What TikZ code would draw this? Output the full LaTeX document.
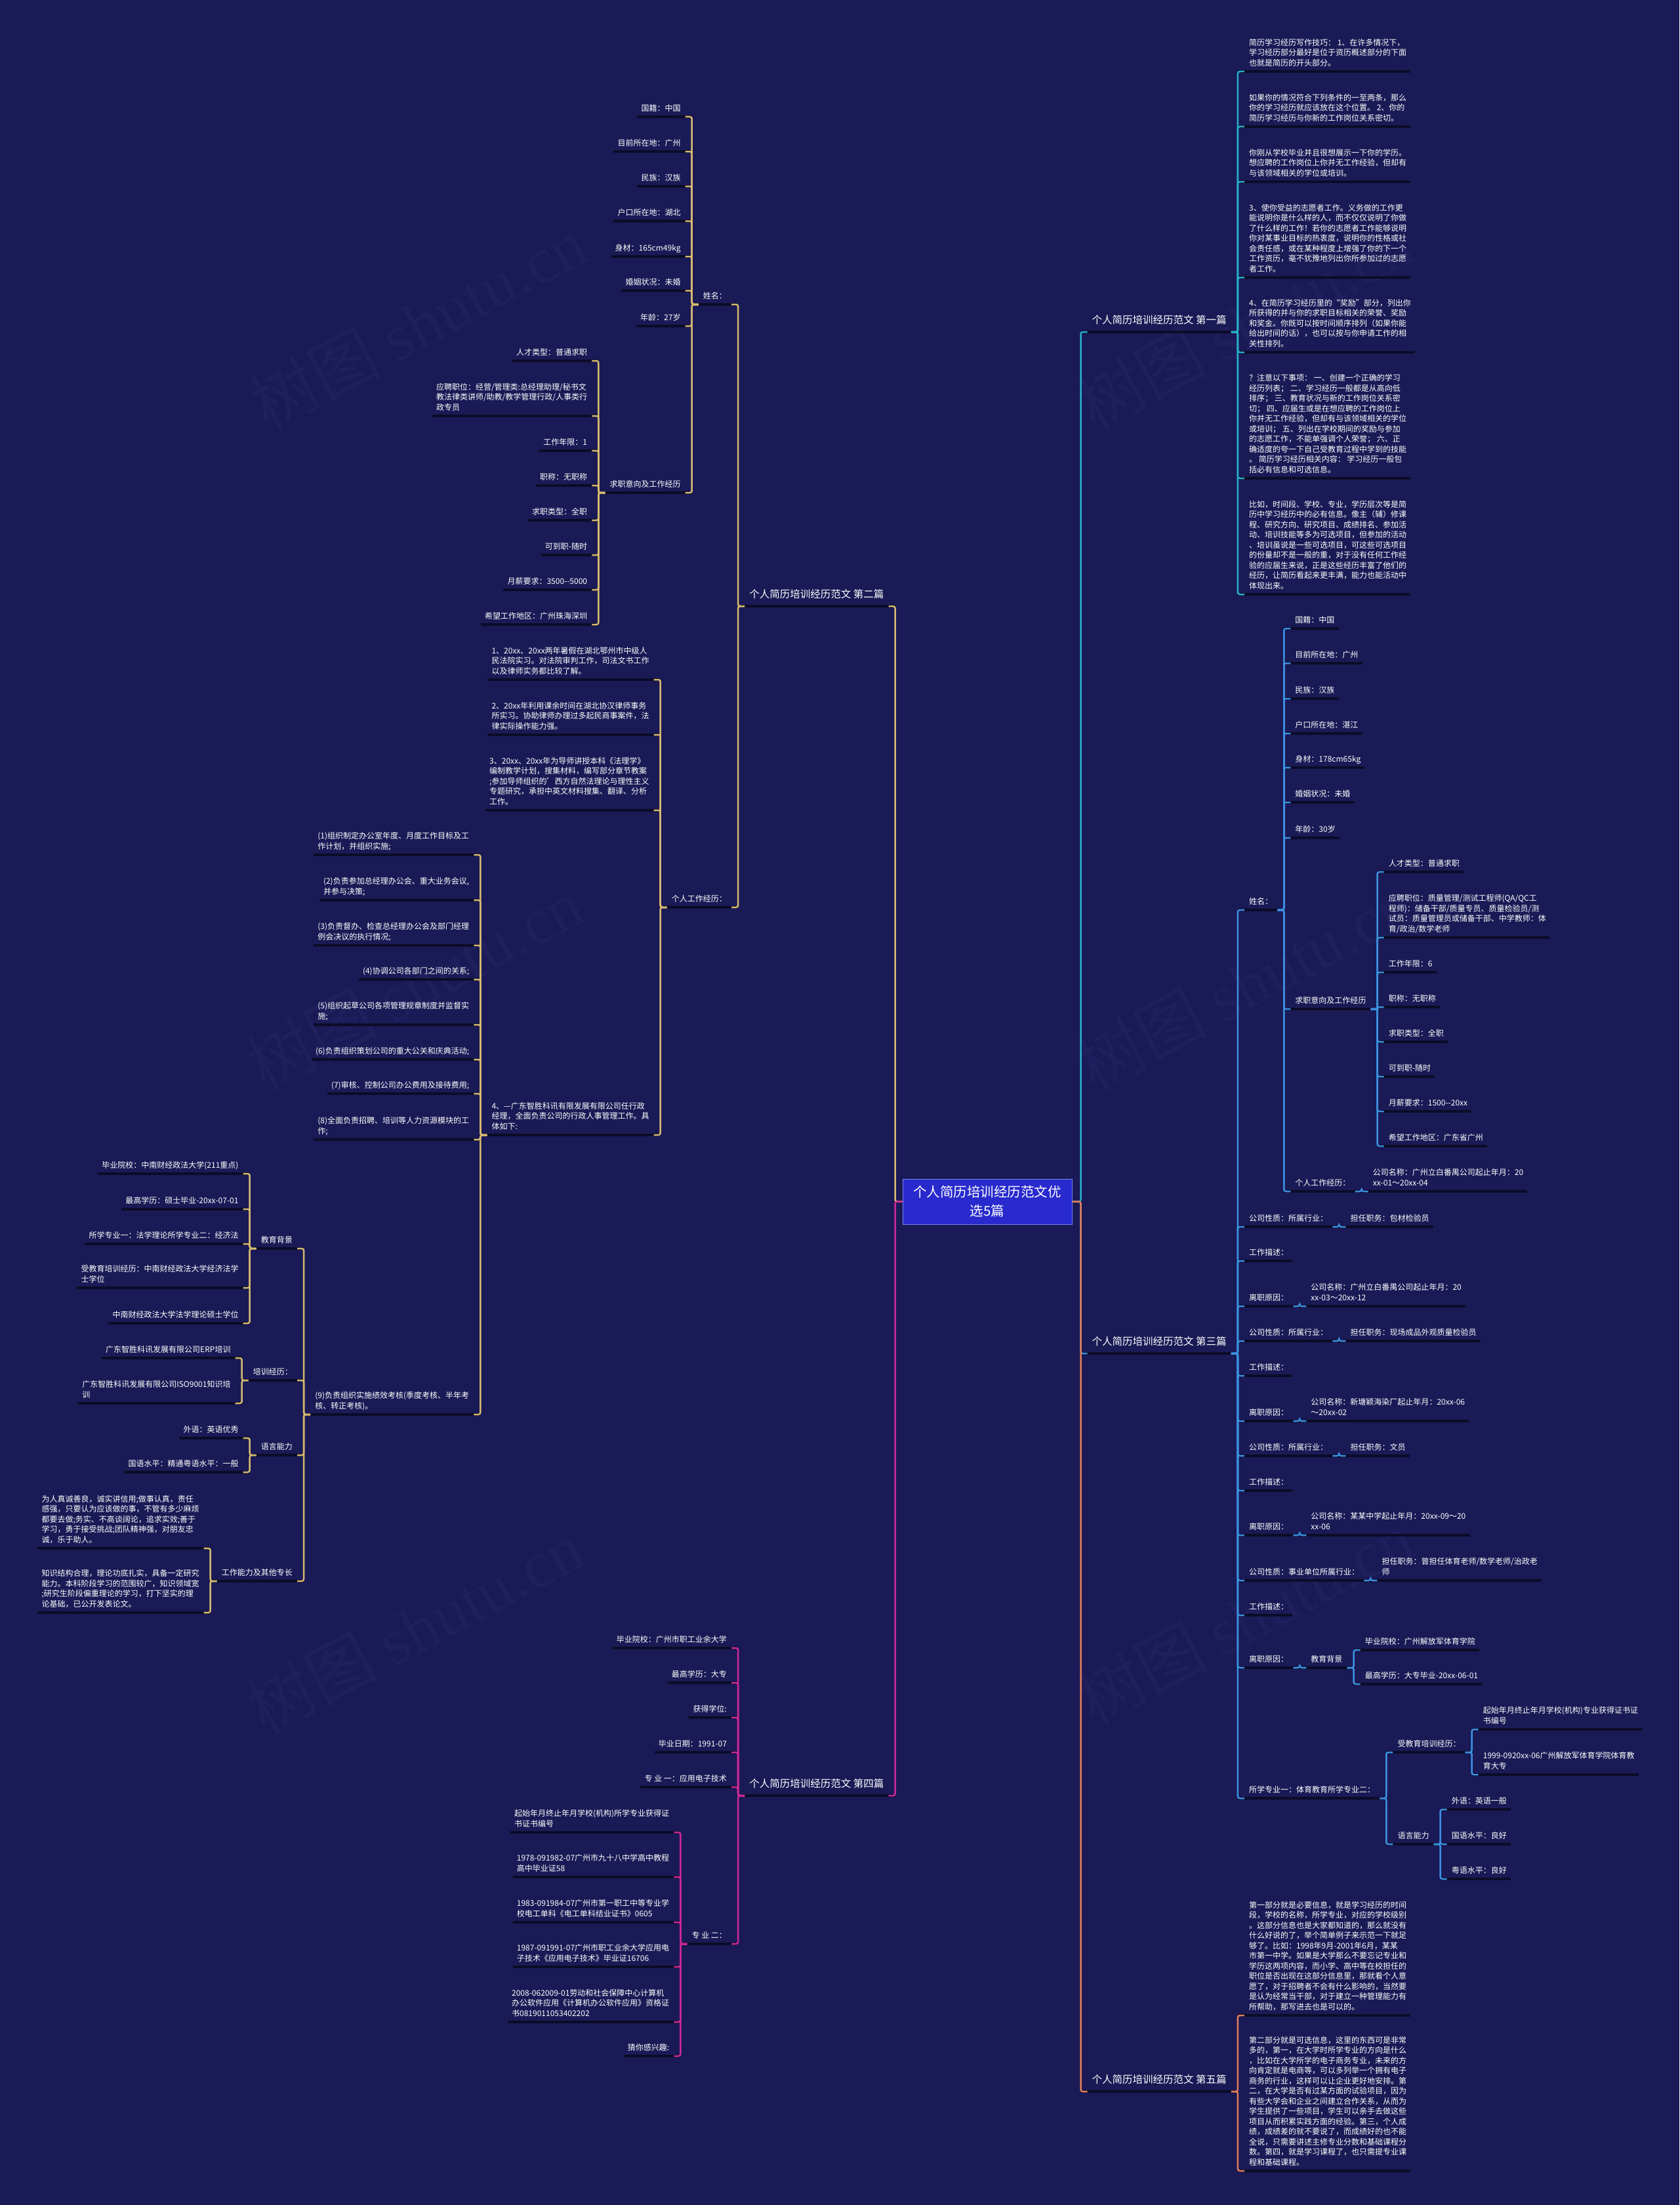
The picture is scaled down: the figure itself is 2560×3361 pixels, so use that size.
\documentclass[tikz,border=0pt]{standalone}
\usepackage{fontspec}
\setmainfont{Noto Sans CJK SC}
\newfontfamily\wmserif{Liberation Serif}
\usetikzlibrary{calc}
\definecolor{bgc}{RGB}{26,26,86}
\definecolor{ulc}{RGB}{12,12,40}
\definecolor{cone}{RGB}{40,175,200}
\definecolor{ctwo}{RGB}{214,186,112}
\definecolor{cthree}{RGB}{60,145,225}
\definecolor{cfour}{RGB}{205,40,150}
\definecolor{cfive}{RGB}{225,125,90}
\definecolor{cfill}{RGB}{40,42,205}
\definecolor{cedge}{RGB}{120,130,240}
\definecolor{wmc}{RGB}{31,31,94}
\newcommand\conR[3]{\foreach \kid in {#3}{\draw[#1] ([xshift=-10pt]#2.south east) -- (#2.south east) |- ([xshift=10pt]\kid.south west);}}
\newcommand\conL[3]{\foreach \kid in {#3}{\draw[#1] ([xshift=10pt]#2.south west) -- (#2.south west) |- ([xshift=-10pt]\kid.south east);}}
\newcommand\ulAll[1]{\foreach \uu in {#1}{\draw[uline] (\uu.south west) -- (\uu.south east);}}
\newcommand\ulLeafR[1]{\foreach \uu in {#1}{\draw[uline] (\uu.south west) -- ([xshift=-11pt]\uu.south east);}}
\newcommand\ulLeafL[1]{\foreach \uu in {#1}{\draw[uline] ([xshift=11pt]\uu.south west) -- (\uu.south east);}}
\tikzset{
  tx/.style={text=white, font=\fontsize{12}{15.5}\selectfont, align=left, inner xsep=17pt, inner ysep=4pt, execute at end node=\strut},
  tR/.style={tx, anchor=south west},
  tL/.style={tx, anchor=south east},
  brx/.style={text=white, font=\fontsize{15.5}{19}\selectfont, inner xsep=17pt, inner ysep=6.3pt, execute at end node=\strut},
  bR/.style={brx, anchor=south west},
  bL/.style={brx, anchor=south east},
  uline/.style={draw=ulc, line width=4pt},
  lnk/.style={line width=2.5pt, rounded corners=3pt},
  lone/.style={lnk, draw=cone},
  ltwo/.style={lnk, draw=ctwo},
  lthree/.style={lnk, draw=cthree},
  lfour/.style={lnk, draw=cfour},
  lfive/.style={lnk, draw=cfive},
  cnode/.style={fill=cfill, draw=cedge, line width=1pt, minimum width=258pt, minimum height=69pt, text=white, font=\fontsize{20.5}{29}\selectfont, align=center, inner sep=0pt},
  wm/.style={text=wmc, font=\fontsize{100}{110}\selectfont, rotate=28, inner sep=0pt}
}
\begin{document}
\begin{tikzpicture}[x=1pt,y=-1pt]
\useasboundingbox (0,0) rectangle (2560,3361);
\fill[bgc] (0,0) rectangle (2560,3361);
% watermarks
\node[wm] (wm1) at (637,493) {树图 {\wmserif shutu.cn}};
\node[wm] (wm2) at (632,1500) {树图 {\wmserif shutu.cn}};
\node[wm] (wm3) at (632,2481) {树图 {\wmserif shutu.cn}};
\node[wm] (wm4) at (1897,493) {树图 {\wmserif shutu.cn}};
\node[wm] (wm5) at (1897,1500) {树图 {\wmserif shutu.cn}};
\node[wm] (wm6) at (1897,2466) {树图 {\wmserif shutu.cn}};
% center
\node[cnode] (c) at (1505,1831.5) {个人简历培训经历范文优\\选5篇};
\coordinate (rt) at ([xshift=13pt]c.east);
\coordinate (lt) at ([xshift=-11pt]c.west);
\node[bR] (b1) at (rt |- 0,506) {个人简历培训经历范文 第一篇};
\node[bL] (b2) at (lt |- 0,924) {个人简历培训经历范文 第二篇};
\node[bR] (b3) at (rt |- 0,2063) {个人简历培训经历范文 第三篇};
\node[bL] (b4) at (lt |- 0,2737) {个人简历培训经历范文 第四篇};
\node[bR] (b5) at (rt |- 0,3188) {个人简历培训经历范文 第五篇};
% ---------- branch 1
\node[tR] (p11) at (b1.south east |- 0,109) {简历学习经历写作技巧： 1、在许多情况下，\\学习经历部分最好是位于资历概述部分的下面\\也就是简历的开头部分。};
\node[tR] (p12) at (b1.south east |- 0,193) {如果你的情况符合下列条件的一至两条，那么\\你的学习经历就应该放在这个位置。 2、你的\\简历学习经历与你新的工作岗位关系密切。};
\node[tR] (p13) at (b1.south east |- 0,277) {你刚从学校毕业并且很想展示一下你的学历。\\想应聘的工作岗位上你并无工作经验，但却有\\与该领域相关的学位或培训。};
\node[tR] (p14) at (b1.south east |- 0,423) {3、使你受益的志愿者工作。义务做的工作更\\能说明你是什么样的人，而不仅仅说明了你做\\了什么样的工作！若你的志愿者工作能够说明\\你对某事业目标的热衷度，说明你的性格或社\\会责任感，或在某种程度上增强了你的下一个\\工作资历，毫不犹豫地列出你所参加过的志愿\\者工作。};
\node[tR] (p15) at (b1.south east |- 0,537) {4、在简历学习经历里的“奖励”部分，列出你\\所获得的并与你的求职目标相关的荣誉、奖励\\和奖金。你既可以按时间顺序排列（如果你能\\给出时间的话），也可以按与你申请工作的相\\关性排列。};
\node[tR] (p16) at (b1.south east |- 0,729) {？注意以下事项： 一、创建一个正确的学习\\经历列表； 二、学习经历一般都是从高向低\\排序； 三、教育状况与新的工作岗位关系密\\切； 四、应届生或是在想应聘的工作岗位上\\你并无工作经验，但却有与该领域相关的学位\\或培训； 五、列出在学校期间的奖励与参加\\的志愿工作，不能单强调个人荣誉； 六、正\\确适度的夸一下自己受教育过程中学到的技能\\。 简历学习经历相关内容： 学习经历一般包\\括必有信息和可选信息。};
\node[tR] (p17) at (b1.south east |- 0,906) {比如，时间段、学校、专业，学历层次等是简\\历中学习经历中的必有信息。像主（辅）修课\\程、研究方向、研究项目、成绩排名、参加活\\动、培训技能等多为可选项目，但参加的活动\\、培训虽说是一些可选项目，可这些可选项目\\的份量却不是一般的重，对于没有任何工作经\\验的应届生来说，正是这些经历丰富了他们的\\经历，让简历看起来更丰满，能力也能活动中\\体现出来。};
% ---------- branch 3
\node[tR] (s3) at (b3.south east |- 0,1387) {姓名：};
\node[tR] (g31) at (b3.south east |- 0,1870) {公司性质：所属行业：};
\node[tR] (m31) at (b3.south east |- 0,1922) {工作描述：};
\node[tR] (l31) at (b3.south east |- 0,1991) {离职原因：};
\node[tR] (g32) at (b3.south east |- 0,2044) {公司性质：所属行业：};
\node[tR] (m32) at (b3.south east |- 0,2097) {工作描述：};
\node[tR] (l32) at (b3.south east |- 0,2166) {离职原因：};
\node[tR] (g33) at (b3.south east |- 0,2219) {公司性质：所属行业：};
\node[tR] (m33) at (b3.south east |- 0,2272) {工作描述：};
\node[tR] (l33) at (b3.south east |- 0,2340) {离职原因：};
\node[tR] (g34) at (b3.south east |- 0,2409) {公司性质：事业单位所属行业：};
\node[tR] (m34) at (b3.south east |- 0,2462) {工作描述：};
\node[tR] (l34) at (b3.south east |- 0,2542) {离职原因：};
\node[tR] (z3) at (b3.south east |- 0,2741) {所学专业一：体育教育所学专业二：};
\node[tR] (s3a) at (s3.south east |- 0,958) {国籍：中国};
\node[tR] (s3b) at (s3.south east |- 0,1011) {目前所在地：广州};
\node[tR] (s3c) at (s3.south east |- 0,1065) {民族：汉族};
\node[tR] (s3d) at (s3.south east |- 0,1118) {户口所在地：湛江};
\node[tR] (s3e) at (s3.south east |- 0,1170) {身材：178cm65kg};
\node[tR] (s3f) at (s3.south east |- 0,1223) {婚姻状况：未婚};
\node[tR] (s3g) at (s3.south east |- 0,1277) {年龄：30岁};
\node[tR] (s3h) at (s3.south east |- 0,1538) {求职意向及工作经历};
\node[tR] (s3i) at (s3.south east |- 0,1816) {个人工作经历：};
\node[tR] (q3a) at (s3h.south east |- 0,1329) {人才类型：普通求职};
\node[tR] (q3b) at (s3h.south east |- 0,1429) {应聘职位：质量管理/测试工程师(QA/QC工\\程师)：储备干部/质量专员、质量检验员/测\\试员：质量管理员或储备干部、中学教师：体\\育/政治/数学老师};
\node[tR] (q3c) at (s3h.south east |- 0,1482) {工作年限：6};
\node[tR] (q3d) at (s3h.south east |- 0,1535) {职称：无职称};
\node[tR] (q3e) at (s3h.south east |- 0,1588) {求职类型：全职};
\node[tR] (q3f) at (s3h.south east |- 0,1641) {可到职-随时};
\node[tR] (q3g) at (s3h.south east |- 0,1694) {月薪要求：1500-{}-20xx};
\node[tR] (q3h) at (s3h.south east |- 0,1747) {希望工作地区：广东省广州};
\node[tR] (r3a) at (s3i.south east |- 0,1816) {公司名称：广州立白番禺公司起止年月：20\\xx-01～20xx-04};
\node[tR] (g31a) at (g31.south east |- 0,1870) {担任职务：包材检验员};
\node[tR] (l31a) at (l31.south east |- 0,1991) {公司名称：广州立白番禺公司起止年月：20\\xx-03～20xx-12};
\node[tR] (g32a) at (g32.south east |- 0,2044) {担任职务：现场成品外观质量检验员};
\node[tR] (l32a) at (l32.south east |- 0,2166) {公司名称：新塘颖海染厂起止年月：20xx-06\\～20xx-02};
\node[tR] (g33a) at (g33.south east |- 0,2219) {担任职务：文员};
\node[tR] (l33a) at (l33.south east |- 0,2340) {公司名称：某某中学起止年月：20xx-09～20\\xx-06};
\node[tR] (g34a) at (g34.south east |- 0,2409) {担任职务：曾担任体育老师/数学老师/治政老\\师};
\node[tR] (l34a) at (l34.south east |- 0,2542) {教育背景};
\node[tR] (l34b) at (l34a.south east |- 0,2515) {毕业院校：广州解放军体育学院};
\node[tR] (l34c) at (l34a.south east |- 0,2567) {最高学历：大专毕业-20xx-06-01};
\node[tR] (z3a) at (z3.south east |- 0,2671) {受教育培训经历：};
\node[tR] (z3b) at (z3.south east |- 0,2811) {语言能力};
\node[tR] (z3a1) at (z3a.south east |- 0,2636) {起始年月终止年月学校(机构)专业获得证书证\\书编号};
\node[tR] (z3a2) at (z3a.south east |- 0,2705) {1999-0920xx-06广州解放军体育学院体育教\\育大专};
\node[tR] (z3b1) at (z3b.south east |- 0,2758) {外语：英语一般};
\node[tR] (z3b2) at (z3b.south east |- 0,2811) {国语水平：良好};
\node[tR] (z3b3) at (z3b.south east |- 0,2864) {粤语水平：良好};
% ---------- branch 5
\node[tR] (p51) at (b5.south east |- 0,3072) {第一部分就是必要信息，就是学习经历的时间\\段，学校的名称，所学专业，对应的学校级别\\。这部分信息也是大家都知道的，那么就没有\\什么好说的了，举个简单例子来示范一下就足\\够了。比如：1998年9月-2001年6月，某某\\市第一中学。如果是大学那么不要忘记专业和\\学历这两项内容，而小学、高中等在校担任的\\职位是否出现在这部分信息里，那就看个人意\\愿了，对于招聘者不会有什么影响的，当然要\\是认为经常当干部，对于建立一种管理能力有\\所帮助，那写进去也是可以的。};
\node[tR] (p52) at (b5.south east |- 0,3309) {第二部分就是可选信息，这里的东西可是非常\\多的，第一，在大学时所学专业的方向是什么\\，比如在大学所学的电子商务专业，未来的方\\向肯定就是电商等，可以多列举一个拥有电子\\商务的行业，这样可以让企业更好地安排。第\\二，在大学是否有过某方面的试验项目，因为\\有些大学会和企业之间建立合作关系，从而为\\学生提供了一些项目，学生可以亲手去做这些\\项目从而积累实践方面的经验。第三，个人成\\绩，成绩差的就不要说了，而成绩好的也不能\\全说，只需要讲述主修专业分数和基础课程分\\数。第四，就是学习课程了，也只需提专业课\\程和基础课程。};
% ---------- branch 2
\node[tL] (s2) at (b2.south west |- 0,464) {姓名：};
\node[tL] (w2) at (b2.south west |- 0,1383) {个人工作经历：};
\node[tL] (s2a) at (s2.south west |- 0,178) {国籍：中国};
\node[tL] (s2b) at (s2.south west |- 0,231) {目前所在地：广州};
\node[tL] (s2c) at (s2.south west |- 0,284) {民族：汉族};
\node[tL] (s2d) at (s2.south west |- 0,337) {户口所在地：湖北};
\node[tL] (s2e) at (s2.south west |- 0,391) {身材：165cm49kg};
\node[tL] (s2f) at (s2.south west |- 0,443) {婚姻状况：未婚};
\node[tL] (s2g) at (s2.south west |- 0,497) {年龄：27岁};
\node[tL] (s2h) at (s2.south west |- 0,751) {求职意向及工作经历};
\node[tL] (q2a) at (s2h.south west |- 0,550) {人才类型：普通求职};
\node[tL] (q2b) at (s2h.south west |- 0,634) {应聘职位：经营/管理类:总经理助理/秘书文\\教法律类讲师/助教/教学管理行政/人事类行\\政专员};
\node[tL] (q2c) at (s2h.south west |- 0,687) {工作年限：1};
\node[tL] (q2d) at (s2h.south west |- 0,740) {职称：无职称};
\node[tL] (q2e) at (s2h.south west |- 0,793) {求职类型：全职};
\node[tL] (q2f) at (s2h.south west |- 0,846) {可到职-随时};
\node[tL] (q2g) at (s2h.south west |- 0,899) {月薪要求：3500-{}-5000};
\node[tL] (q2h) at (s2h.south west |- 0,952) {希望工作地区：广州珠海深圳};
\node[tL] (w2a) at (w2.south west |- 0,1036) {1、20xx、20xx两年暑假在湖北鄂州市中级人\\民法院实习。对法院审判工作，司法文书工作\\以及律师实务都比较了解。};
\node[tL] (w2b) at (w2.south west |- 0,1120) {2、20xx年利用课余时间在湖北协汉律师事务\\所实习。协助律师办理过多起民商事案件，法\\律实际操作能力强。};
\node[tL] (w2c) at (w2.south west |- 0,1235) {3、20xx、20xx年为导师讲授本科《法理学》\\编制教学计划，搜集材料，编写部分章节教案\\;参加导师组织的'西方自然法理论与理性主义\\专题研究，承担中英文材料搜集、翻译、分析\\工作。};
\node[tL] (w2d) at (w2.south west |- 0,1730) {4、—广东智胜科讯有限发展有限公司任行政\\经理，全面负责公司的行政人事管理工作。具\\体如下:};
\node[tL] (k1) at (w2d.south west |- 0,1303) {(1)组织制定办公室年度、月度工作目标及工\\作计划，并组织实施;};
\node[tL] (k2) at (w2d.south west |- 0,1372) {(2)负责参加总经理办公会、重大业务会议,\\并参与决策;};
\node[tL] (k3) at (w2d.south west |- 0,1441) {(3)负责督办、检查总经理办公会及部门经理\\例会决议的执行情况;};
\node[tL] (k4) at (w2d.south west |- 0,1493) {(4)协调公司各部门之间的关系;};
\node[tL] (k5) at (w2d.south west |- 0,1562) {(5)组织起草公司各项管理规章制度并监督实\\施;};
\node[tL] (k6) at (w2d.south west |- 0,1615) {(6)负责组织策划公司的重大公关和庆典活动;};
\node[tL] (k7) at (w2d.south west |- 0,1667) {(7)审核、控制公司办公费用及接待费用;};
\node[tL] (k8) at (w2d.south west |- 0,1737) {(8)全面负责招聘、培训等人力资源模块的工\\作;};
\node[tL] (k9) at (w2d.south west |- 0,2156) {(9)负责组织实施绩效考核(季度考核、半年考\\核、转正考核)。};
\node[tL] (e1) at (k9.south west |- 0,1903) {教育背景};
\node[tL] (e2) at (k9.south west |- 0,2104) {培训经历：};
\node[tL] (e3) at (k9.south west |- 0,2218) {语言能力};
\node[tL] (e4) at (k9.south west |- 0,2410) {工作能力及其他专长};
\node[tL] (e1a) at (e1.south west |- 0,1789) {毕业院校：中南财经政法大学(211重点)};
\node[tL] (e1b) at (e1.south west |- 0,1843) {最高学历：硕士毕业-20xx-07-01};
\node[tL] (e1c) at (e1.south west |- 0,1896) {所学专业一：法学理论所学专业二：经济法};
\node[tL] (e1d) at (e1.south west |- 0,1963) {受教育培训经历：中南财经政法大学经济法学\\士学位};
\node[tL] (e1e) at (e1.south west |- 0,2017) {中南财经政法大学法学理论硕士学位};
\node[tL] (e2a) at (e2.south west |- 0,2070) {广东智胜科讯发展有限公司ERP培训};
\node[tL] (e2b) at (e2.south west |- 0,2139) {广东智胜科讯发展有限公司ISO9001知识培\\训};
\node[tL] (e3a) at (e3.south west |- 0,2192) {外语：英语优秀};
\node[tL] (e3b) at (e3.south west |- 0,2244) {国语水平：精通粤语水平：一般};
\node[tL] (e4a) at (e4.south west |- 0,2360) {为人真诚善良，诚实讲信用;做事认真，责任\\感强，只要认为应该做的事，不管有多少麻烦\\都要去做;务实、不高谈阔论，追求实效;善于\\学习，勇于接受挑战;团队精神强，对朋友忠\\诚，乐于助人。};
\node[tL] (e4b) at (e4.south west |- 0,2458) {知识结构合理，理论功底扎实，具备一定研究\\能力。本科阶段学习的范围较广，知识领域宽\\;研究生阶段偏重理论的学习，打下坚实的理\\论基础，已公开发表论文。};
% ---------- branch 4
\node[tL] (f1) at (b4.south west |- 0,2512) {毕业院校：广州市职工业余大学};
\node[tL] (f2) at (b4.south west |- 0,2565) {最高学历：大专};
\node[tL] (f3) at (b4.south west |- 0,2618) {获得学位:};
\node[tL] (f4) at (b4.south west |- 0,2671) {毕业日期：1991-07};
\node[tL] (f5) at (b4.south west |- 0,2724) {专 业 一：应用电子技术};
\node[tL] (f6) at (b4.south west |- 0,2963) {专 业 二：};
\node[tL] (f6a) at (f6.south west |- 0,2793) {起始年月终止年月学校(机构)所学专业获得证\\书证书编号};
\node[tL] (f6b) at (f6.south west |- 0,2861) {1978-091982-07广州市九十八中学高中教程\\高中毕业证58};
\node[tL] (f6c) at (f6.south west |- 0,2930) {1983-091984-07广州市第一职工中等专业学\\校电工单科《电工单科结业证书》0605};
\node[tL] (f6d) at (f6.south west |- 0,2998) {1987-091991-07广州市职工业余大学应用电\\子技术《应用电子技术》毕业证16706};
\node[tL] (f6e) at (f6.south west |- 0,3082) {2008-062009-01劳动和社会保障中心计算机\\办公软件应用《计算机办公软件应用》资格证\\书0819011053402202};
\node[tL] (f6f) at (f6.south west |- 0,3134) {猜你感兴趣:};
% ---------- underlines
\ulAll{b1,b2,b3,b4,b5,s3,s3h,s3i,g31,g32,g33,g34,l31,l32,l33,l34,l34a,z3,z3a,z3b,s2,s2h,w2,w2d,k9,e1,e2,e3,e4,f6}
\ulLeafR{p11,p12,p13,p14,p15,p16,p17,p51,p52,s3a,s3b,s3c,s3d,s3e,s3f,s3g,q3a,q3b,q3c,q3d,q3e,q3f,q3g,q3h,r3a,g31a,g32a,g33a,g34a,l31a,l32a,l33a,l34b,l34c,z3a1,z3a2,z3b1,z3b2,z3b3,m31,m32,m33,m34}
\ulLeafL{s2a,s2b,s2c,s2d,s2e,s2f,s2g,q2a,q2b,q2c,q2d,q2e,q2f,q2g,q2h,w2a,w2b,w2c,k1,k2,k3,k4,k5,k6,k7,k8,e1a,e1b,e1c,e1d,e1e,e2a,e2b,e3a,e3b,e4a,e4b,f1,f2,f3,f4,f5,f6a,f6b,f6c,f6d,f6e,f6f}
% ---------- connectors
\draw[lone] (c.east) -- (rt) |- ([xshift=10pt]b1.south west);
\draw[lthree] (c.east) -- (rt) |- ([xshift=10pt]b3.south west);
\draw[lfive] (c.east) -- (rt) |- ([xshift=10pt]b5.south west);
\draw[ltwo] (c.west) -- (lt) |- ([xshift=-10pt]b2.south east);
\draw[lfour] (c.west) -- (lt) |- ([xshift=-10pt]b4.south east);
\conR{lone}{b1}{p11,p12,p13,p14,p15,p16,p17}
\conR{lthree}{b3}{s3,g31,m31,l31,g32,m32,l32,g33,m33,l33,g34,m34,l34,z3}
\conR{lthree}{s3}{s3a,s3b,s3c,s3d,s3e,s3f,s3g,s3h,s3i}
\conR{lthree}{s3h}{q3a,q3b,q3c,q3d,q3e,q3f,q3g,q3h}
\conR{lthree}{s3i}{r3a}
\conR{lthree}{g31}{g31a}
\conR{lthree}{g32}{g32a}
\conR{lthree}{g33}{g33a}
\conR{lthree}{g34}{g34a}
\conR{lthree}{l31}{l31a}
\conR{lthree}{l32}{l32a}
\conR{lthree}{l33}{l33a}
\conR{lthree}{l34}{l34a}
\conR{lthree}{l34a}{l34b,l34c}
\conR{lthree}{z3}{z3a,z3b}
\conR{lthree}{z3a}{z3a1,z3a2}
\conR{lthree}{z3b}{z3b1,z3b2,z3b3}
\conR{lfive}{b5}{p51,p52}
\conL{ltwo}{b2}{s2,w2}
\conL{ltwo}{s2}{s2a,s2b,s2c,s2d,s2e,s2f,s2g,s2h}
\conL{ltwo}{s2h}{q2a,q2b,q2c,q2d,q2e,q2f,q2g,q2h}
\conL{ltwo}{w2}{w2a,w2b,w2c,w2d}
\conL{ltwo}{w2d}{k1,k2,k3,k4,k5,k6,k7,k8,k9}
\conL{ltwo}{k9}{e1,e2,e3,e4}
\conL{ltwo}{e1}{e1a,e1b,e1c,e1d,e1e}
\conL{ltwo}{e2}{e2a,e2b}
\conL{ltwo}{e3}{e3a,e3b}
\conL{ltwo}{e4}{e4a,e4b}
\conL{lfour}{b4}{f1,f2,f3,f4,f5,f6}
\conL{lfour}{f6}{f6a,f6b,f6c,f6d,f6e,f6f}
\end{tikzpicture}
\end{document}
